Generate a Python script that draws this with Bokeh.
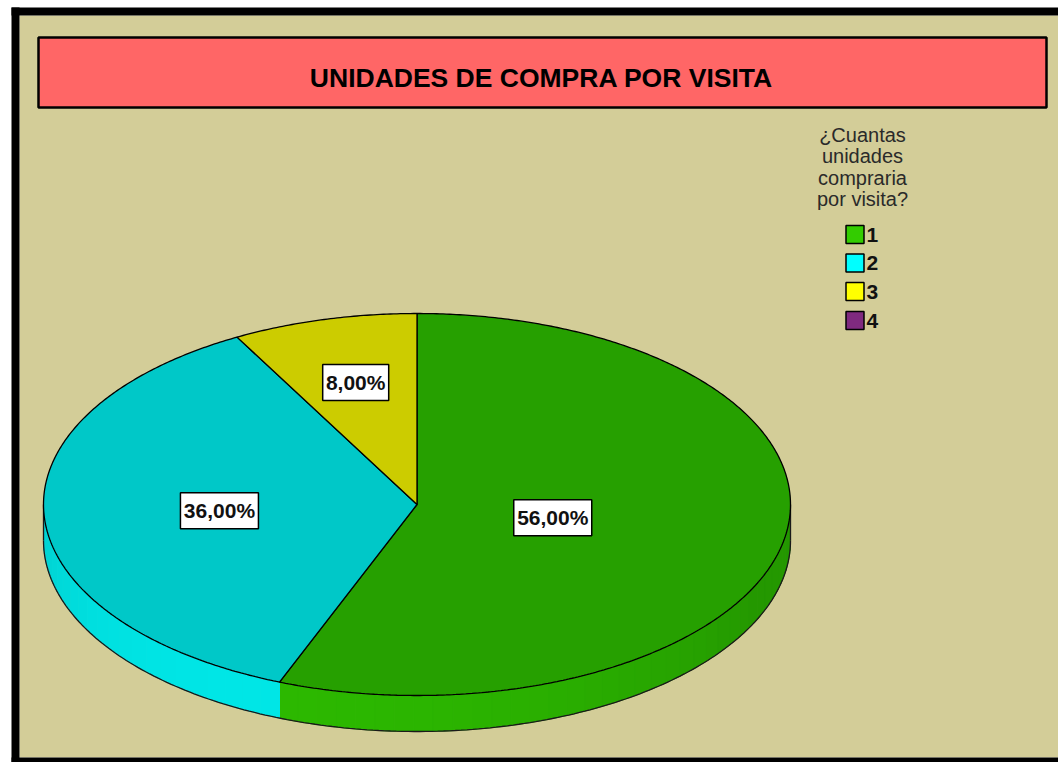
import numpy as np
from bokeh.plotting import figure
from bokeh.models import Range1d
from bokeh.core.properties import value
from bokeh.embed import file_html
from bokeh.resources import INLINE

# ---- data ----
categories = ["1", "2", "3", "4"]
percentages = [56.0, 36.0, 8.0, 0.0]
title_text = "UNIDADES DE COMPRA POR VISITA"
legend_title = ["¿Cuantas", "unidades", "compraria", "por visita?"]

# ---- styles ----
top_colors = ["#26A000", "#00C8C8", "#CCCC00", "#7A2A7A"]
legend_colors = ["#33CC00", "#00FFFF", "#FFFF00", "#7F2A7F"]
BG = "#D3CD98"
FONT = "Liberation Sans"

# geometry (page pixel coordinates)
cx, cy, ra, rb, depth = 416.5, 504.0, 373.5, 191.0, 36.0
label_r = [0.37, 0.53, 0.66, 0.5]

W, H = 1058, 762
p = figure(width=W, height=H, x_range=Range1d(0, W), y_range=Range1d(H, 0),
           output_backend="svg", toolbar_location=None, x_axis_type=None, y_axis_type=None,
           min_border=0, min_border_left=0, min_border_right=0, min_border_top=0, min_border_bottom=0)
p.outline_line_color = None
p.grid.visible = False
p.background_fill_color = "white"
p.border_fill_color = "white"

# frame
p.quad(left=[19], right=[1070], top=[15], bottom=[757], fill_color=BG, line_color=None)
p.quad(left=[11, 11, 11], right=[19, 1070, 1070], top=[7, 7, 757], bottom=[770, 15, 770],
       fill_color="black", line_color=None)

# title box
p.quad(left=[38], right=[1046], top=[37], bottom=[107], fill_color="#FF6666",
       line_color="black", line_width=2.5)
p.text(x=[541], y=[77], text=[title_text], text_font=value(FONT), text_font_style="bold",
       text_font_size="26.5px", text_align="center", text_baseline="middle", text_color="black")

# slice angles (degrees, clockwise from top)
tot = sum(percentages)
starts, ends = [], []
a = 90.0
for v in percentages:
    starts.append(a)
    a = a - 360.0 * v / tot
    ends.append(a)


def ell(t_deg, dy=0.0):
    t = np.radians(t_deg)
    return cx + ra * np.cos(t), cy - rb * np.sin(t) + dy


def shade(hexcol, f):
    h = hexcol.lstrip("#")
    rgb = [int(h[i:i + 2], 16) for i in (0, 2, 4)]
    rgb = [min(255, int(round(c * f))) for c in rgb]
    return "#%02x%02x%02x" % tuple(rgb)


# side strips
sx, sy, sc = [], [], []
for i, v in enumerate(percentages):
    if v <= 0:
        continue
    lo, hi = ends[i], starts[i]
    for k in (-1, 0, 1):
        vlo, vhi = max(lo, -180 + 360 * k), min(hi, 360 * k)
        if vhi - vlo <= 1e-6:
            continue
        n = max(1, int((vhi - vlo) / 3))
        edges = np.linspace(vlo, vhi, n + 1)
        for ta, tb in zip(edges[:-1], edges[1:]):
            ts = np.linspace(ta, tb, 5)
            xt, yt = ell(ts)
            xb, yb = ell(ts[::-1], depth)
            sx.append(list(xt) + list(xb))
            sy.append(list(yt) + list(yb))
            tm = 0.5 * (ta + tb)
            f = 0.95 + 0.2 * max(0.0, np.cos(np.radians(tm - (-115))))
            sc.append(shade(top_colors[i], f))
p.patches(xs=sx, ys=sy, fill_color=sc, line_color=sc, line_width=1)

# side outlines
tb_ = np.linspace(-180, 0, 200)
bx, by = ell(tb_, depth)
p.line(x=bx, y=by, line_color="#1a1a1a", line_width=1.3)
p.segment(x0=[cx - ra, cx + ra], y0=[cy, cy], x1=[cx - ra, cx + ra], y1=[cy + depth, cy + depth],
          line_color="#1a1a1a", line_width=1.3)

# top faces
tx, ty, tc = [], [], []
for i, v in enumerate(percentages):
    if v <= 0:
        continue
    ts = np.linspace(starts[i], ends[i], max(3, int(abs(starts[i] - ends[i]) * 2)))
    xe, ye = ell(ts)
    tx.append([cx] + list(xe))
    ty.append([cy] + list(ye))
    tc.append(top_colors[i])
p.patches(xs=tx, ys=ty, fill_color=tc, line_color="black", line_width=1.3)

# value labels
lx, ly, lt, lw = [], [], [], []
for i, v in enumerate(percentages):
    if v <= 0:
        continue
    tm = 0.5 * (starts[i] + ends[i])
    t = np.radians(tm)
    lx.append(cx + label_r[i] * ra * np.cos(t))
    ly.append(cy - label_r[i] * rb * np.sin(t))
    s = ("%.2f%%" % v).replace(".", ",")
    lt.append(s)
    lw.append(78 if len(s) > 5 else 66)
p.rect(x=lx, y=ly, width=lw, height=36, width_units="screen", height_units="screen",
       fill_color="white", line_color="black", line_width=1.5)
p.text(x=lx, y=ly, text=lt, text_font=value(FONT), text_font_style="bold", text_font_size="21px",
       text_align="center", text_baseline="middle", text_color="#111111")

# legend title
p.text(x=[862] * 4, y=[134, 155.5, 177, 198.5], text=legend_title, text_font=value(FONT),
       text_font_size="20px", text_align="center", text_baseline="middle", text_color="#2a2a2a")

# legend entries
ly0 = [234, 262.5, 291, 320]
p.rect(x=[854.5] * 4, y=ly0, width=18, height=18, width_units="screen", height_units="screen",
       fill_color=legend_colors, line_color="black", line_width=1.5)
p.text(x=[866] * 4, y=ly0, text=categories, text_font=value(FONT), text_font_style="bold",
       text_font_size="21px", text_align="left", text_baseline="middle", text_color="#111111")

open("out.html", "w").write(file_html(p, INLINE))
